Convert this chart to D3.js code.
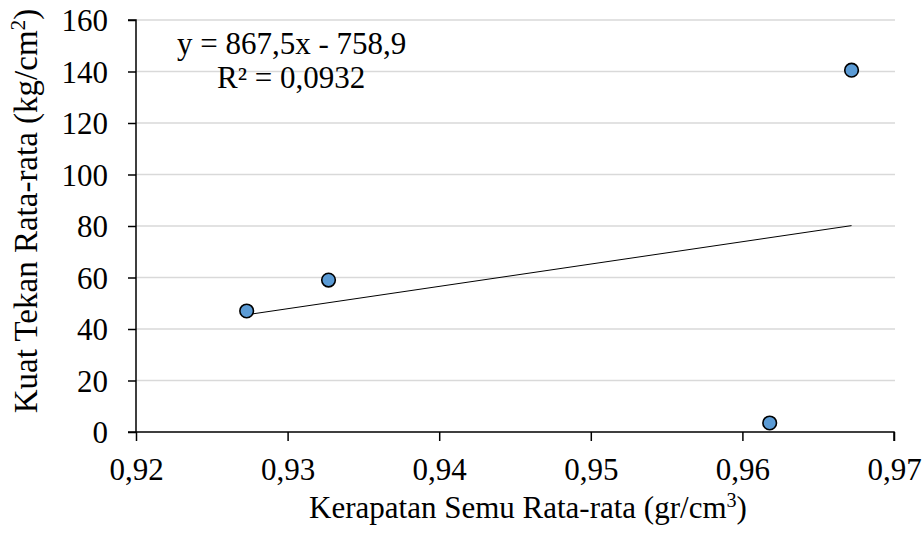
<!DOCTYPE html>
<html>
<head>
<meta charset="utf-8">
<script src="https://cdn.jsdelivr.net/npm/d3@7"></script>
<style>
  html, body { margin: 0; padding: 0; background: #fff; }
  svg { display: block; }
  text { font-family: "Liberation Serif", "Times New Roman", serif; fill: #000; }
</style>
</head>
<body>
<svg id="chart" width="924" height="537"></svg>
<script>
// Average density (gr/cm3) vs. average compressive strength (kg/cm2)
const density  = [0.9273, 0.9327, 0.9618, 0.9672];
const strength = [47.0, 59.0, 3.5, 140.5];

// Linear trendline coefficients
const slope = 867.5;
const intercept = -758.9;
const eqLabel = "y = 867,5x - 758,9";
const r2Label = "R² = 0,0932";

const xTicks = [0.92, 0.93, 0.94, 0.95, 0.96, 0.97];
const yTicks = [0, 20, 40, 60, 80, 100, 120, 140, 160];

const xTitle = "Kerapatan Semu Rata-rata (gr/cm";
const yTitle = "Kuat Tekan Rata-rata (kg/cm";

const fmt = v => d3.format(".2f")(v).replace(".", ",");

const svg = d3.select("#chart");

const x = d3.scaleLinear().domain([0.92, 0.97]).range([136, 894]);
const y = d3.scaleLinear().domain([0, 160]).range([432, 20]);

const FS = 31;
const FS_YT = 33;

// horizontal gridlines
svg.append("g")
  .selectAll("line")
  .data(yTicks.filter(d => d > 0))
  .join("line")
  .attr("x1", x(0.92)).attr("x2", x(0.97) + 1)
  .attr("y1", d => y(d)).attr("y2", d => y(d))
  .attr("stroke", "#d9d9d9").attr("stroke-width", 1.5);

// y axis
const yAxis = svg.append("g")
  .attr("transform", `translate(${x(0.92)},0)`)
  .call(d3.axisLeft(y).tickValues(yTicks).tickSize(8).tickFormat(d3.format("d")));
yAxis.select(".domain").attr("stroke", "#000").attr("stroke-width", 1.5).attr("d", `M-8,${y(160)}H0V${y(0)}`);
yAxis.selectAll(".tick line").attr("stroke", "#000").attr("stroke-width", 1.5);
yAxis.selectAll(".tick text")
  .style("font-family", '"Liberation Serif", serif').style("font-size", FS + "px")
  .attr("dy", "0.35em").attr("x", -28);

// x axis
const xAxis = svg.append("g")
  .attr("transform", `translate(0,${y(0)})`)
  .call(d3.axisBottom(x).tickValues(xTicks).tickSize(9).tickFormat(fmt));
xAxis.select(".domain").attr("stroke", "#000").attr("stroke-width", 1.5).attr("d", `M${x(0.92) - 8},0H${x(0.97)}V9`);
xAxis.selectAll(".tick line").attr("stroke", "#000").attr("stroke-width", 1.5);
xAxis.selectAll(".tick text")
  .style("font-family", '"Liberation Serif", serif').style("font-size", FS + "px")
  .attr("dy", null).attr("y", 48);

// trendline over the data range
const xr = d3.extent(density);
svg.append("line")
  .attr("x1", x(xr[0])).attr("y1", y(slope * xr[0] + intercept))
  .attr("x2", x(xr[1])).attr("y2", y(slope * xr[1] + intercept))
  .attr("stroke", "#000").attr("stroke-width", 1);

// points
svg.append("g")
  .selectAll("circle")
  .data(density.map((d, i) => [d, strength[i]]))
  .join("circle")
  .attr("cx", d => x(d[0])).attr("cy", d => y(d[1]))
  .attr("r", 6.8)
  .attr("fill", "#5b9bd5").attr("stroke", "#000").attr("stroke-width", 1.6);

// trendline equation
svg.append("text").attr("x", 177).attr("y", 54)
  .style("font-size", FS + "px").text(eqLabel);
svg.append("text").attr("x", 217).attr("y", 88)
  .style("font-size", FS + "px").text(r2Label);

// axis titles
const xt = svg.append("text").attr("x", 528).attr("y", 518).attr("text-anchor", "middle")
  .style("font-size", FS + "px");
xt.append("tspan").text(xTitle);
xt.append("tspan").attr("dy", -11).style("font-size", (FS * 0.65) + "px").text("3");
xt.append("tspan").attr("dy", 11).text(")");

const yt = svg.append("text").attr("transform", "translate(37,211) rotate(-90)").attr("text-anchor", "middle")
  .style("font-size", FS_YT + "px");
yt.append("tspan").text(yTitle);
yt.append("tspan").attr("dy", -12).style("font-size", (FS_YT * 0.65) + "px").text("2");
yt.append("tspan").attr("dy", 12).text(")");
</script>
</body>
</html>
